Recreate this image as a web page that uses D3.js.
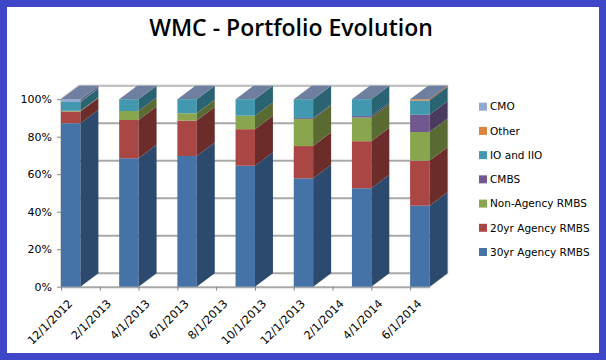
<!DOCTYPE html>
<html>
<head>
<meta charset="utf-8">
<script src="https://cdn.jsdelivr.net/npm/d3@7"></script>
<style>
  html, body { margin: 0; padding: 0; background: #fff; }
  text { font-family: "DejaVu Sans", sans-serif; fill: #000; }
</style>
</head>
<body>
<svg id="drawing_region"></svg>
<script>
// month offset from 12/1/2012 for each reporting date
const bar_months = [0, 3, 6, 9, 12, 15, 18];
const tick_months = [0, 2, 4, 6, 8, 10, 12, 14, 16, 18];
const tick_labels = ['12/1/2012', '2/1/2013', '4/1/2013', '6/1/2013', '8/1/2013',
    '10/1/2013', '12/1/2013', '2/1/2014', '4/1/2014', '6/1/2014'];
const y_ticks = [0, 20, 40, 60, 80, 100];

const agency30 = [87.2, 68.5, 69.7, 64.5, 57.8, 52.5, 43.2];
const agency20 = [6.2, 20.4, 18.9, 19.5, 17.2, 25.1, 24.0];
const non_agency = [0.4, 4.8, 3.9, 7.2, 14.5, 12.6, 15.3];
const cmbs = [0, 0, 0, 0, 0.5, 0.8, 9.2];
const io_iio = [4.7, 6.3, 7.5, 8.8, 10.0, 9.0, 7.6];
const other = [0, 0, 0, 0, 0, 0, 0.7];
const cmo = [1.5, 0, 0, 0, 0, 0, 0];

const series_names = ['30yr Agency RMBS', '20yr Agency RMBS', 'Non-Agency RMBS', 'CMBS', 'IO and IIO', 'Other', 'CMO'];
const series_values = [agency30, agency20, non_agency, cmbs, io_iio, other, cmo];
const front_colors = ['#4572a7', '#aa4643', '#89a54e', '#71588f', '#4198af', '#db843d', '#93a9cf'];
const side_colors = ['#2c4a6e', '#6b2c2a', '#596b32', '#493a5e', '#2a6472', '#8f5628', '#5f6e87'];

const width = 606, height = 360;
const depth_x = 18, depth_y = 13.5;
const grid_color = '#a9a9a9';

const svg = d3.select('#drawing_region')
    .attr('width', width)
    .attr('height', height)
    .style('display', 'block');

// blue frame around the picture
svg.append('rect').attr('width', width).attr('height', height).attr('fill', '#4046c8');
svg.append('rect').attr('x', 7).attr('y', 7).attr('width', 592).attr('height', 346).attr('fill', '#fff');

svg.append('text')
    .attr('x', 291)
    .attr('y', 36)
    .attr('text-anchor', 'middle')
    .style('font-family', '"Open Sans"')
    .style('font-size', '23px')
    .style('font-weight', 600)
    .text('WMC - Portfolio Evolution');

const xscale = d3.scaleLinear().domain([0, 19]).range([61, 429.5]);
const yscale = d3.scaleLinear().domain([0, 100]).range([286.7, 99.2]);
const bar_width = xscale(1) - xscale(0);

const x0 = xscale.range()[0], x1 = xscale.range()[1];
const y0 = yscale(0), y100 = yscale(100);

// back wall grid, side wall and floor
const chart = svg.append('g');
const wall = chart.append('g').attr('fill', 'none').attr('stroke', grid_color);

wall.selectAll('line.grid')
    .data(y_ticks)
    .join('line')
    .attr('class', 'grid')
    .attr('x1', x0 + depth_x)
    .attr('x2', x1 + depth_x)
    .attr('y1', d => yscale(d) - depth_y)
    .attr('y2', d => yscale(d) - depth_y)
    .attr('stroke-width', 2);

wall.append('path')
    .attr('d', d3.line()([[x0, y100], [x0 + depth_x, y100 - depth_y], [x1 + depth_x, y100 - depth_y],
        [x1 + depth_x, y0 - depth_y], [x1, y0]]))
    .attr('stroke', '#c4c4c4')
    .attr('stroke-width', 1.5);

// y axis
const yaxis = d3.axisLeft(yscale)
    .tickValues(y_ticks)
    .tickFormat(d => d + '%')
    .tickSize(4)
    .tickSizeOuter(0)
    .tickPadding(5);

const yaxis_group = chart.append('g')
    .attr('transform', `translate(${x0},0)`)
    .call(yaxis);
yaxis_group.select('.domain').attr('stroke', grid_color).attr('stroke-width', 2);
yaxis_group.selectAll('line').attr('stroke', '#868686');
yaxis_group.selectAll('text').style('font-size', '11px').style('font-family', '"DejaVu Sans"');

// x axis on the date scale, ticks every two months
const xaxis = d3.axisBottom(xscale)
    .tickValues(tick_months)
    .tickFormat((d, i) => tick_labels[i])
    .tickSize(4)
    .tickSizeOuter(0);

const xaxis_group = chart.append('g')
    .attr('transform', `translate(0,${y0})`)
    .call(xaxis);
xaxis_group.select('.domain').attr('stroke', grid_color).attr('stroke-width', 2);
xaxis_group.selectAll('line').attr('stroke', '#868686');
xaxis_group.selectAll('text')
    .attr('text-anchor', 'end')
    .attr('transform', 'translate(6,12) rotate(-45)')
    .attr('x', 0)
    .attr('y', 4)
    .attr('dy', '0.35em')
    .style('font-size', '11.3px')
    .style('font-family', '"DejaVu Sans"');

// stacked 3D columns
const rows = bar_months.map((m, i) => {
    const row = { month: m };
    series_names.forEach((name, s) => { row[name] = series_values[s][i]; });
    return row;
});
const stacked = d3.stack().keys(series_names)(rows);

const corners = (d, top) => {
    const left = xscale(d.data.month) + bar_width;
    return [left, yscale(top)];
};

const layers = chart.append('g').selectAll('g')
    .data(stacked)
    .join('g');

layers.selectAll('rect')
    .data(d => d.filter(v => v[1] > v[0]))
    .join('rect')
    .attr('x', d => xscale(d.data.month))
    .attr('y', d => yscale(d[1]))
    .attr('width', bar_width)
    .attr('height', d => yscale(d[0]) - yscale(d[1]))
    .attr('fill', function() { return front_colors[d3.select(this.parentNode).datum().index]; });

layers.selectAll('path')
    .data(d => d.filter(v => v[1] > v[0]))
    .join('path')
    .attr('d', d => {
        const [xa, ya] = corners(d, d[0]);
        const [xb, yb] = corners(d, d[1]);
        return d3.line()([[xa, ya], [xa + depth_x, ya - depth_y], [xb + depth_x, yb - depth_y], [xb, yb]]) + 'Z';
    })
    .attr('fill', function() { return side_colors[d3.select(this.parentNode).datum().index]; });

// top face of each column
chart.append('g').selectAll('path')
    .data(rows)
    .join('path')
    .attr('d', d => {
        const xa = xscale(d.month), xb = xa + bar_width;
        return d3.line()([[xa, y100], [xa + depth_x, y100 - depth_y], [xb + depth_x, y100 - depth_y], [xb, y100]]) + 'Z';
    })
    .attr('fill', '#6f7f9f');

// legend, drawn top down in reverse stacking order
const legend_y = d3.scalePoint()
    .domain(series_names.slice().reverse())
    .range([106.7, 252]);

const legend = svg.append('g').selectAll('g')
    .data(series_names)
    .join('g')
    .attr('transform', d => `translate(479,${legend_y(d)})`);

legend.append('rect')
    .attr('y', -4)
    .attr('width', 8)
    .attr('height', 8)
    .attr('fill', (d, i) => front_colors[i]);

legend.append('text')
    .attr('x', 11)
    .attr('dy', '0.36em')
    .style('font-size', '10.5px')
    .text(d => d);
</script>
</body>
</html>
